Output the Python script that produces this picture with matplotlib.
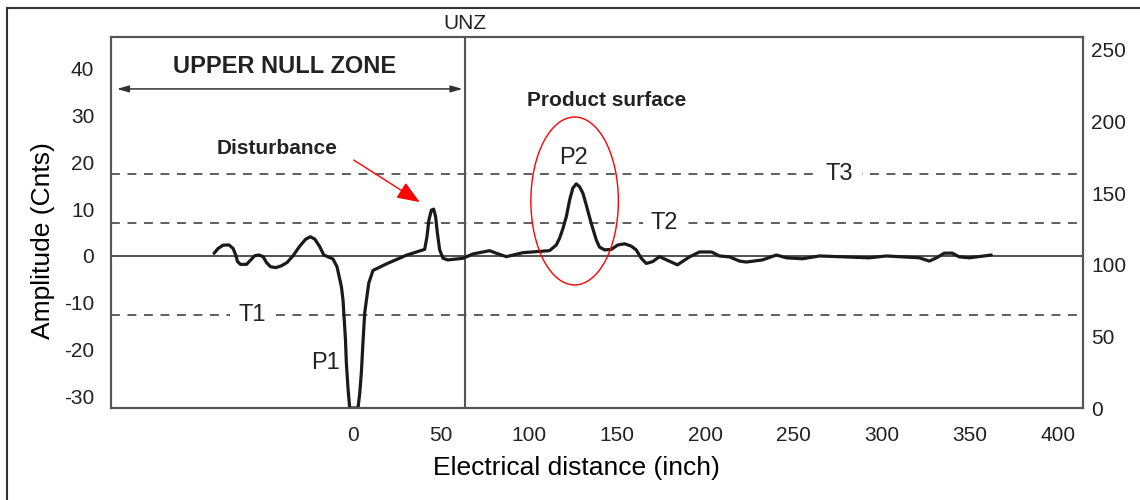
import matplotlib.pyplot as plt
from matplotlib.patches import Ellipse, Rectangle
import matplotlib.transforms as mtransforms

plt.rcParams['font.family'] = ['Liberation Sans', 'DejaVu Sans']
plt.rcParams['text.color'] = '#222222'
plt.rcParams['axes.unicode_minus'] = False

# echo curve (electrical distance in inch, amplitude in counts)
dist = [-78.6, -76.3, -73.5, -70.1, -67.8, -66.3, -65.3, -63.6, -60.2, -57.4,
        -55.5, -53.1, -50.8, -48.9, -46.6, -43.6, -40.4, -37.2, -33.8, -30.0,
        -26.6, -24.0, -21.5, -18.7, -16.4, -11.2, -8.9, -6.4, -5.5, -4.9,
        -4.1, -3.6, -2.6, -1.7, 3.0, 4.0, 4.9, 5.8, 6.8, 7.8,
        9.1, 11.5, 19.1, 30.4, 38.0, 40.8, 42.1, 43.2, 44.6, 45.9,
        47.0, 48.0, 49.3, 51.2, 54.0, 62.5, 68.2, 77.6, 81.4, 87.1,
        92.7, 96.5, 104.1, 111.6, 115.4, 117.3, 119.2, 121.1, 123.0, 124.8,
        126.7, 128.6, 130.5, 132.4, 135.2, 138.1, 139.9, 142.8, 146.6, 150.3,
        154.1, 157.9, 160.7, 163.6, 166.4, 170.1, 173.9, 184.1, 190.9, 196.6,
        203.4, 207.9, 213.6, 219.3, 223.2, 232.3, 240.2, 245.9, 255.0, 264.6,
        292.9, 302.5, 321.2, 326.9, 330.9, 335.4, 339.9, 343.9, 349.6, 362.0]
amp = [0.57, 1.6, 2.3, 2.35, 1.6, 0.2, -1.2, -1.8, -1.8, -0.7,
       0.06, 0.2, -0.15, -1.4, -2.3, -2.5, -2.1, -1.4, 0.06, 2.1,
       3.6, 4.1, 3.6, 2.0, 0.2, -0.64, -2.3, -6.6, -9.4, -13.0,
       -17.9, -22.9, -28.6, -32.5, -32.5, -29.3, -25.0, -18.6, -12.2, -9.4,
       -5.8, -3.1, -1.7, 0.15, 1.07, 1.4, 4.1, 7.7, 9.8, 10.0,
       8.4, 4.9, 1.3, -0.5, -0.85, -0.5, 0.43, 1.13, 0.58, -0.15,
       0.36, 0.7, 0.92, 1.13, 2.35, 3.8, 5.9, 8.4, 12.0, 14.5,
       15.4, 14.8, 13.4, 10.9, 7.0, 3.4, 1.9, 1.3, 1.4, 2.35,
       2.6, 2.1, 1.3, -0.5, -1.6, -1.2, -0.15, -1.9, -0.2, 0.85,
       0.85, 0.0, -0.2, -1.1, -1.3, -0.85, 0.2, -0.4, -0.6, 0.0,
       -0.4, 0.0, -0.4, -1.1, -0.4, 0.6, 0.6, -0.2, -0.4, 0.2]

# thresholds
t1 = -12.6
t2 = 7.05
t3 = 17.5
unz = 63.5

x_ticks = [0, 50, 100, 150, 200, 250, 300, 350, 400]
left_ticks = [-30, -20, -10, 0, 10, 20, 30, 40]
right_ticks = [0, 50, 100, 150, 200, 250]

fig = plt.figure(figsize=(11.4, 5.0), dpi=100)
ax = fig.add_axes([0.0974, 0.184, 0.8526, 0.742])

ink = '#222222'
frame = '#555555'

ax.axhline(0, color=ink, lw=1.1, zorder=2)
ax.axvline(unz, color=frame, lw=1.5, zorder=2)

for lvl in (t1, t2, t3):
    ax.axhline(lvl, color='#333333', lw=1.1, dashes=(5.8, 5.0), zorder=1)

ax.plot(dist, amp, color='#1a1a1a', lw=2.3, solid_joinstyle='round',
        solid_capstyle='round', zorder=4)

# threshold labels sit on the dashed lines
box = dict(facecolor='white', edgecolor='none', pad=6)
ax.text(276, t3, 'T3', fontsize=17, ha='center', va='center', bbox=box, zorder=3)
ax.text(176.8, t2, 'T2', fontsize=17, ha='center', va='center', bbox=box, zorder=3)
ax.text(-57.2, t1, 'T1', fontsize=17, ha='center', va='center', bbox=box, zorder=3)

ax.text(-15.3, -22.9, 'P1', fontsize=17, ha='center', va='center')
ax.text(125.2, 20.9, 'P2', fontsize=17, ha='center', va='center')

ax.text(143.9, 33.3, 'Product surface', fontsize=15, fontweight='bold',
        ha='center', va='center')
ax.add_patch(Ellipse((125.8, 11.75), 49.6, 35.9, fill=False, ec='red', lw=1.0, zorder=5))

ax.text(-43, 22.9, 'Disturbance', fontsize=15, fontweight='bold',
        ha='center', va='center')
ax.annotate('', xy=(38, 11.5), xytext=(0.6, 20.5),
            arrowprops=dict(arrowstyle='-|>,head_length=1.4,head_width=0.55',
                            color='red', lw=1.0, shrinkA=0, shrinkB=0))

ax.text(-38.5, 40.6, 'UPPER NULL ZONE', fontsize=17, fontweight='bold',
        ha='center', va='center')
ax.annotate('', xy=(-133.7, 35.7), xytext=(62.3, 35.7),
            arrowprops=dict(arrowstyle='<|-|>,head_length=0.7,head_width=0.2',
                            color='#333333', lw=1.1, shrinkA=0, shrinkB=0))

trans = mtransforms.blended_transform_factory(ax.transData, ax.transAxes)
ax.text(unz, 1.01, 'UNZ', fontsize=15, ha='center', va='bottom', transform=trans)

ax.set_xlim(-137, 414)
ax.set_ylim(-32.5, 46.8)
ax.set_xticks(x_ticks)
ax.set_yticks(left_ticks)
ax.tick_params(axis='x', length=0, pad=13, labelsize=15, labelcolor=ink)
ax.tick_params(axis='y', length=0, pad=12, labelsize=15, labelcolor=ink)
ax.set_xlabel('Electrical distance (inch)', fontsize=19)
ax.set_ylabel('Amplitude (Cnts)', fontsize=19)
ax.xaxis.set_label_coords(0.479, -0.13)
ax.yaxis.set_label_coords(-0.058, 0.45)

ax2 = ax.twinx()
ax2.set_ylim(0, 259)
ax2.set_yticks(right_ticks)
ax2.tick_params(axis='y', length=0, pad=6, labelsize=15, labelcolor=ink)

for a in (ax, ax2):
    for s in a.spines.values():
        s.set_color(frame)
        s.set_linewidth(1.5)

# outer border of the panel
fig.patches.append(Rectangle((7 / 1140, -0.1), 1.2, 1.1 - 8 / 500, fill=False,
                             ec='#333333', lw=1.5, transform=fig.transFigure,
                             figure=fig))

fig.savefig('out.png', dpi=100)
